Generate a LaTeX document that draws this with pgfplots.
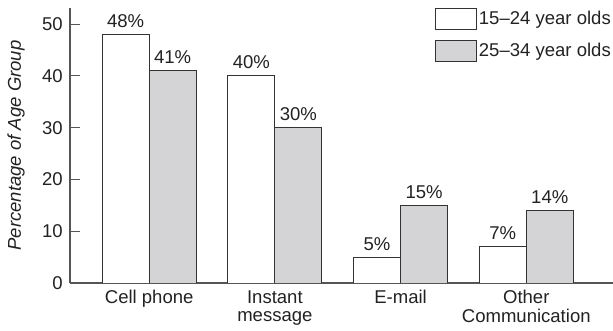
\documentclass[border=0pt]{standalone}
\usepackage{fontspec}
\setmainfont{Liberation Sans}
\usepackage{pgfplots}
\pgfplotsset{compat=1.18}
\definecolor{barline}{HTML}{333333}
\definecolor{axisline}{HTML}{555555}
\definecolor{bargray}{HTML}{D4D4D6}
\definecolor{txt}{HTML}{222222}
\newcommand{\chartfont}{\fontsize{18.6}{18.5}\selectfont}
\begin{document}
\chartfont
\begin{tikzpicture}
\begin{axis}[
    at={(0,0)}, anchor=south west,
    scale only axis,
    width=543bp, height=275bp,
    ybar=0pt,
    bar width=47bp,
    xmin=-0.63, xmax=3.69,
    ymin=0, ymax=53.1,
    axis x line*=bottom,
    axis y line*=left,
    axis line style={axisline, line width=1.2pt, -},
    xtick=data,
    xticklabels={Cell phone, {Instant\\message}, E-mail, {Other\\Communication}},
    xtick style={draw=none},
    xticklabel style={align=center, text=txt, font=\chartfont, yshift=-1bp},
    ytick={0,10,...,50},
    tick align=inside,
    major tick length=10bp,
    ytick style={axisline, line width=1pt},
    yticklabel style={text=txt, font=\chartfont, xshift=-1bp},
    /pgf/number format/assume math mode=true,
    ylabel={\itshape Percentage of Age Group},
    ylabel style={text=txt, font=\chartfont, inner sep=0pt,
        at={(axis description cs:-0.083,0.5)}, anchor=south},
    nodes near coords={\pgfmathprintnumber{\pgfplotspointmeta}\%},
    nodes near coords style={text=txt, font=\chartfont},
    legend style={draw=none, fill=none, at={(1,1)}, anchor=north east,
        font=\chartfont, text=txt,
        row sep=10bp, inner xsep=0pt, inner ysep=0pt,
        /tikz/every even column/.append style={column sep=6bp}},
    legend image code/.code={\draw[#1, line width=0.9pt] (0bp,-10.5bp) rectangle (41bp,10.5bp);},
    legend cell align=left,
]
\addplot[draw=barline, fill=white, line width=1pt] coordinates {(0,48) (1,40) (2,5) (3,7)};
\addlegendentry{15–24 year olds}
\addplot[draw=barline, fill=bargray, line width=1pt] coordinates {(0,41) (1,30) (2,15) (3,14)};
\addlegendentry{25–34 year olds}
\end{axis}
\pgfresetboundingbox
\path (-70bp,-48bp) rectangle (543bp,283bp);
\end{tikzpicture}
\end{document}
